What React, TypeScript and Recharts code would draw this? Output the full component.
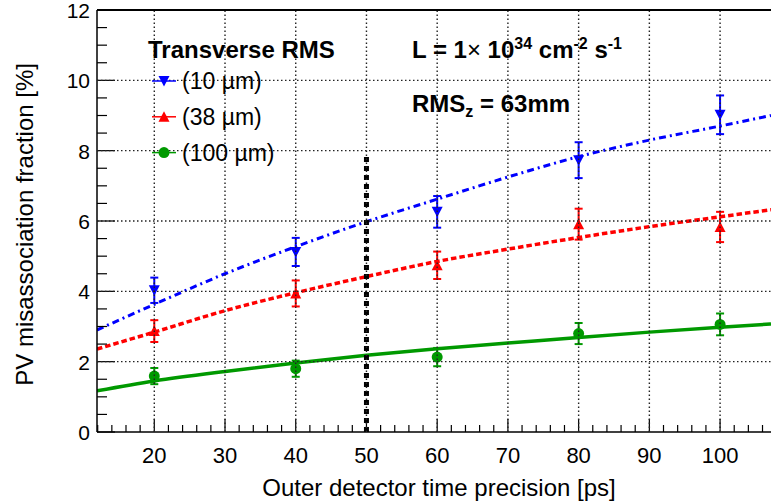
import React from 'react';
import { ComposedChart, Line, Scatter, XAxis, YAxis, ErrorBar, ReferenceLine } from 'recharts';

// measured points (x = outer detector time precision in ps)
const timePoints = [20, 40, 60, 80, 100];
const blueValues = [4.03, 5.12, 6.26, 7.73, 9.02];
const blueErrors = [0.36, 0.4, 0.45, 0.51, 0.55];
const redValues = [2.87, 3.94, 4.74, 5.91, 5.83];
const redErrors = [0.31, 0.37, 0.39, 0.44, 0.43];
const greenValues = [1.59, 1.8, 2.13, 2.8, 3.06];
const greenErrors = [0.23, 0.23, 0.26, 0.3, 0.31];

// fit curves
const fitX = [11.9, 20, 30, 40, 50, 60, 70, 80, 90, 100, 107.2];
const blueFit = [2.9, 3.63, 4.5, 5.27, 5.98, 6.62, 7.25, 7.83, 8.3, 8.7, 9.0];
const redFit = [2.36, 2.84, 3.45, 3.96, 4.42, 4.85, 5.2, 5.53, 5.84, 6.12, 6.32];
const greenFit = [1.17, 1.45, 1.72, 1.96, 2.18, 2.37, 2.53, 2.69, 2.84, 2.98, 3.07];

const xMin = 11.9;
const xMax = 107.2;
const yMin = 0;
const yMax = 12;
const xTicks = [20, 30, 40, 50, 60, 70, 80, 90, 100];
const xMinorTicks = [12, 14, 16, 18, 20, 22, 24, 26, 28, 30, 32, 34, 36, 38, 40, 42, 44, 46, 48, 50, 52, 54, 56, 58, 60, 62, 64, 66, 68, 70, 72, 74, 76, 78, 80, 82, 84, 86, 88, 90, 92, 94, 96, 98, 100, 102, 104, 106];
const yTicks = [0, 2, 4, 6, 8, 10, 12];
const yMinorTicks = [0, 0.5, 1, 1.5, 2, 2.5, 3, 3.5, 4, 4.5, 5, 5.5, 6, 6.5, 7, 7.5, 8, 8.5, 9, 9.5, 10, 10.5, 11, 11.5, 12];
const gridX = [20, 30, 40, 50, 60, 70, 80, 90, 100];
const gridY = [2, 4, 6, 8, 10];
const markerLineX = 50;
const markerLineTop = 7.85;

// layout
const W = 771;
const H = 504;
const TOP = 10;
const Y_AXIS_W = 97;
const X_AXIS_H = 72;
const PLOT_W = W - Y_AXIS_W;
const PLOT_H = H - TOP - X_AXIS_H;

// same linear mapping as the chart axes, used only for the grid and frame
const gx = (v: number) => Y_AXIS_W + ((v - xMin) / (xMax - xMin)) * PLOT_W;
const gy = (v: number) => TOP + ((yMax - v) / (yMax - yMin)) * PLOT_H;

const BLUE = '#0000ff';
const RED = '#ff0000';
const GREEN = '#009900';
const FONT = '"Liberation Sans", Arial, Helvetica, sans-serif';

const toPoints = (vals: number[], errs: number[]) =>
  timePoints.map((x, i) => ({ x, y: vals[i], err: errs[i] }));
const toCurve = (vals: number[]) => fitX.map((x, i) => ({ x, y: vals[i] }));

const blueData = toPoints(blueValues, blueErrors);
const redData = toPoints(redValues, redErrors);
const greenData = toPoints(greenValues, greenErrors);

// inward ticks, ROOT style
const XTick = (props: any) => {
  const { x, y, payload } = props;
  const major = xTicks.includes(payload.value);
  return (
    <g>
      <line x1={x} x2={x} y1={y} y2={y - (major ? 13 : 7)} stroke="#000" strokeWidth={1.2} />
      {major && (
        <text x={x} y={y + 31} textAnchor="middle" fontSize={22} fontFamily={FONT} fill="#000">
          {payload.value}
        </text>
      )}
    </g>
  );
};

const YTick = (props: any) => {
  const { x, y, payload } = props;
  const major = yTicks.includes(payload.value);
  return (
    <g>
      <line x1={x} x2={x + (major ? 18 : 10)} y1={y} y2={y} stroke="#000" strokeWidth={1.2} />
      {major && (
        <text x={x - 7} y={y + 8} textAnchor="end" fontSize={21} fontFamily={FONT} fill="#000">
          {payload.value}
        </text>
      )}
    </g>
  );
};

const DownTriangle = (p: any) => (
  <path d={`M${p.cx - 5.5},${p.cy - 5} L${p.cx + 5.5},${p.cy - 5} L${p.cx},${p.cy + 5.5} Z`} fill={BLUE} />
);
const UpTriangle = (p: any) => (
  <path d={`M${p.cx - 5.5},${p.cy + 5} L${p.cx + 5.5},${p.cy + 5} L${p.cx},${p.cy - 5.5} Z`} fill={RED} />
);
const Dot = (p: any) => <circle cx={p.cx} cy={p.cy} r={5.5} fill={GREEN} />;

const legendRows = [
  { label: '(10 \u00b5m)', color: BLUE, shape: 'down' },
  { label: '(38 \u00b5m)', color: RED, shape: 'up' },
  { label: '(100 \u00b5m)', color: GREEN, shape: 'dot' },
];

export default function App() {
  return (
    <div style={{ position: 'absolute', left: 0, top: 0, width: W, height: H, background: '#fff' }}>
      <ComposedChart width={W} height={H} data={blueData} margin={{ top: TOP, right: 0, bottom: 0, left: 0 }}>
        <XAxis
          dataKey="x"
          type="number"
          domain={[xMin, xMax]}
          allowDataOverflow
          ticks={xMinorTicks}
          interval={0}
          height={X_AXIS_H}
          tickSize={0}
          tickMargin={0}
          tickLine={false}
          tick={<XTick />}
          axisLine={{ stroke: '#000', strokeWidth: 1.5 }}
        />
        <YAxis
          type="number"
          domain={[yMin, yMax]}
          allowDataOverflow
          ticks={yMinorTicks}
          interval={0}
          width={Y_AXIS_W}
          tickSize={0}
          tickMargin={0}
          tickLine={false}
          tick={<YTick />}
          axisLine={{ stroke: '#000', strokeWidth: 1.5 }}
        />
        <Line data={toCurve(blueFit)} dataKey="y" type="monotone" stroke={BLUE} strokeWidth={3} strokeDasharray="7 4 2 4" dot={false} isAnimationActive={false} />
        <Line data={toCurve(redFit)} dataKey="y" type="monotone" stroke={RED} strokeWidth={3.5} strokeDasharray="5.5 3" dot={false} isAnimationActive={false} />
        <Line data={toCurve(greenFit)} dataKey="y" type="monotone" stroke={GREEN} strokeWidth={3.5} dot={false} isAnimationActive={false} />
        <ReferenceLine
          segment={[{ x: markerLineX, y: yMin }, { x: markerLineX, y: markerLineTop }]}
          ifOverflow="visible"
          stroke="#000"
          strokeWidth={5}
          strokeDasharray="5 4"
        />
        <Scatter data={blueData} dataKey="y" shape={<DownTriangle />} isAnimationActive={false}>
          <ErrorBar dataKey="err" direction="y" width={4} stroke={BLUE} strokeWidth={2} />
        </Scatter>
        <Scatter data={redData} dataKey="y" shape={<UpTriangle />} isAnimationActive={false}>
          <ErrorBar dataKey="err" direction="y" width={4} stroke={RED} strokeWidth={2} />
        </Scatter>
        <Scatter data={greenData} dataKey="y" shape={<Dot />} isAnimationActive={false}>
          <ErrorBar dataKey="err" direction="y" width={4} stroke={GREEN} strokeWidth={2} />
        </Scatter>
      </ComposedChart>

      <svg width={W} height={H} style={{ position: 'absolute', left: 0, top: 0, pointerEvents: 'none' }} fontFamily={FONT}>
        <g>
          {gridX.map((v) => (
            <path key={'gx' + v} d={`M${gx(v)},${gy(yMin)} V${gy(yMax)}`} fill="none" stroke="#222" strokeWidth={1.4} strokeDasharray="1.5 2.5" />
          ))}
          {gridY.map((v) => (
            <path key={'gy' + v} d={`M${gx(xMin)},${gy(v)} H${gx(xMax)}`} fill="none" stroke="#222" strokeWidth={1.4} strokeDasharray="1.5 2.5" />
          ))}
          <path d={`M${gx(xMin)},${gy(yMax)} H${gx(xMax)}`} fill="none" stroke="#000" strokeWidth={2} />
        </g>
        <text x={148} y={58} fontSize={24} fontWeight="bold">Transverse RMS</text>
        {legendRows.map((row, i) => {
          const cy = 81 + i * 35.8;
          return (
            <g key={row.label}>
              <line x1={152} x2={176} y1={cy} y2={cy} stroke={row.color} strokeWidth={1.5} />
              {row.shape === 'down' && <DownTriangle cx={164} cy={cy} />}
              {row.shape === 'up' && <UpTriangle cx={164} cy={cy} />}
              {row.shape === 'dot' && <Dot cx={164} cy={cy} />}
              <text x={182} y={cy + 8} fontSize={23}>{row.label}</text>
            </g>
          );
        })}
        <text x={412} y={58} fontSize={24} fontWeight="bold">
          L = 1<tspan fontWeight="normal">{'\u00d7'}</tspan> 10
          <tspan dy={-9} fontSize={16}>34</tspan>
          <tspan dy={9}> cm</tspan>
          <tspan dy={-9} fontSize={16}>-2</tspan>
          <tspan dy={9}> s</tspan>
          <tspan dy={-9} fontSize={16}>-1</tspan>
        </text>
        <text x={412} y={112} fontSize={24} fontWeight="bold">
          RMS<tspan dy={5} fontSize={16}>z</tspan>
          <tspan dy={-5}> = 63mm</tspan>
        </text>
        <text x={33} y={63} fontSize={24} textAnchor="end" transform="rotate(-90 33 63)">
          PV misassociation fraction [%]
        </text>
        <text x={439} y={496} fontSize={24} textAnchor="middle">
          Outer detector time precision [ps]
        </text>
      </svg>
    </div>
  );
}
